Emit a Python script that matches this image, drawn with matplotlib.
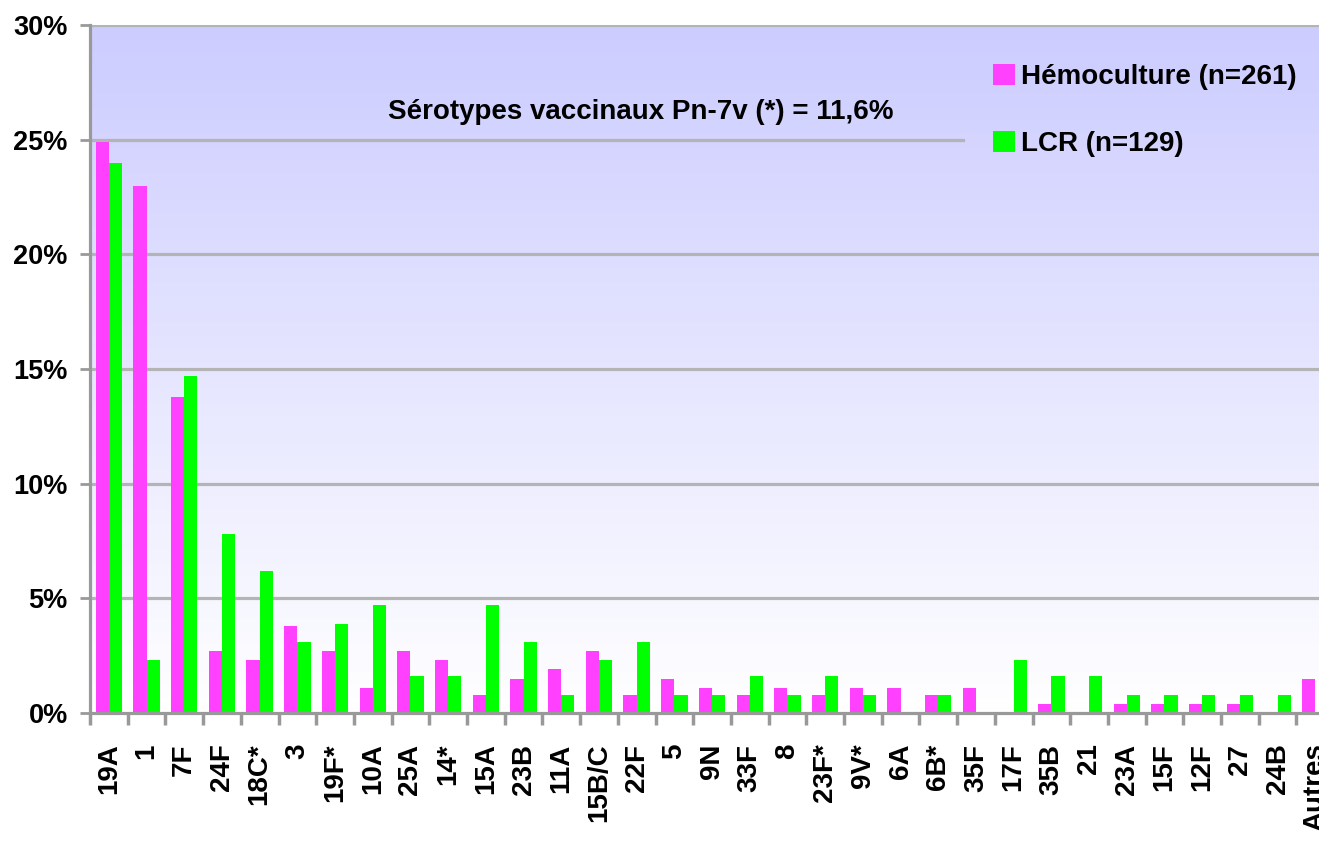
import numpy as np
import matplotlib
matplotlib.use("Agg")
import matplotlib.pyplot as plt
from matplotlib.patches import Patch

categories = ["19A", "1", "7F", "24F", "18C*", "3", "19F*", "10A", "25A", "14*",
              "15A", "23B", "11A", "15B/C", "22F", "5", "9N", "33F", "8", "23F*",
              "9V*", "6A", "6B*", "35F", "17F", "35B", "21", "23A", "15F", "12F",
              "27", "24B", "Autres"]
hemoculture = [24.9, 23.0, 13.8, 2.7, 2.3, 3.8, 2.7, 1.1, 2.7, 2.3,
               0.8, 1.5, 1.9, 2.7, 0.8, 1.5, 1.1, 0.8, 1.1, 0.8,
               1.1, 1.1, 0.8, 1.1, 0.0, 0.4, 0.0, 0.4, 0.4, 0.4,
               0.4, 0.0, 1.5]
lcr = [24.0, 2.3, 14.7, 7.8, 6.2, 3.1, 3.9, 4.7, 1.6, 1.6,
       4.7, 3.1, 0.8, 2.3, 3.1, 0.8, 0.8, 1.6, 0.8, 1.6,
       0.8, 0.0, 0.8, 0.0, 2.3, 1.6, 1.6, 0.8, 0.8, 0.8,
       0.8, 0.8, 0.0]
series_labels = ["Hémoculture (n=261)", "LCR (n=129)"]
yticks = [0, 5, 10, 15, 20, 25, 30]
annotation = "Sérotypes vaccinaux Pn-7v (*) = 11,6%"

plt.rcParams['font.family'] = ['Liberation Sans', 'DejaVu Sans']
plt.rcParams['font.weight'] = 'bold'

W, H = 1319, 841
fig = plt.figure(figsize=(W / 100, H / 100), dpi=100)
ax = fig.add_axes([90 / W, 128 / H, (W - 90) / W, (713 - 25) / H])

xlim = (-0.5, -0.5 + (W - 90) / 37.7)
ylim = (0, 30)

# gradient background
grad = np.linspace(0, 1, 256).reshape(-1, 1)
top = np.array([204, 204, 255]) / 255
bot = np.array([255, 255, 255]) / 255
img = top[None, None, :] * (1 - grad[:, :, None]) + bot[None, None, :] * grad[:, :, None]
ax.imshow(img, extent=(xlim[0], xlim[1], ylim[0], ylim[1]), aspect='auto',
          origin='upper', zorder=0)

grid_color = '#b4b4b4'
for yv in yticks[1:]:
    xmax = 1.0
    if yv == 25:
        xmax = (963 - 90) / (W - 90)
    ax.axhline(yv, xmin=0, xmax=xmax, color=grid_color, lw=2.3, zorder=0.5)

x = np.arange(len(categories))
bw = 0.35
ax.bar(x - bw / 2, hemoculture, width=bw, color='#FF40FF', zorder=2)
ax.bar(x + bw / 2, lcr, width=bw, color='#00FF00', zorder=2)

ax.set_xlim(*xlim)
ax.set_ylim(*ylim)

for s in ['top', 'right']:
    ax.spines[s].set_visible(False)
for s in ['left', 'bottom']:
    ax.spines[s].set_color('#999999')
    ax.spines[s].set_linewidth(2.3)

ax.set_yticks(yticks)
ax.set_yticklabels([f"{v}%" for v in yticks], fontsize=19.5, fontweight='bold')
ax.tick_params(axis='y', length=7, width=2, color='#999999', pad=9)

ax.set_xticks(x)
ax.set_xticklabels(categories, rotation=90, fontsize=20, fontweight='bold',
                   va='top', ha='center')
ax.set_xticks(np.arange(len(categories)) - 0.5, minor=True)
ax.tick_params(axis='x', which='major', length=0, pad=22)
ax.tick_params(axis='x', which='minor', length=8.5, width=2.5, color='#999999')

ax.text(14.1, 26.2, annotation, fontsize=20, fontweight='bold',
        ha='center', va='center', zorder=3)

handles = [Patch(facecolor='#FF40FF', edgecolor='none'),
           Patch(facecolor='#00FF00', edgecolor='none')]
fig.legend(handles, series_labels, loc='upper left',
           bbox_to_anchor=(993 / W, 1 - 64 / H), frameon=False,
           prop={'weight': 'bold', 'size': 20},
           handlelength=0.8, handleheight=0.8, handletextpad=0.2,
           labelspacing=1.47, borderpad=0, borderaxespad=0)

fig.savefig("out.png", dpi=100)
